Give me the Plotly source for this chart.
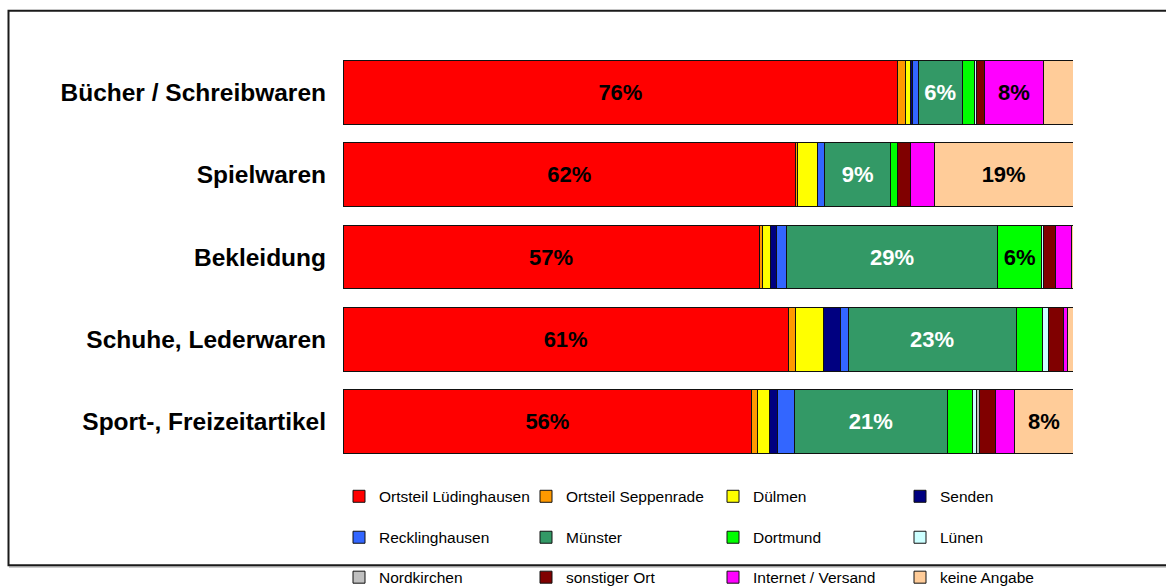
import plotly.graph_objects as go

# Product groups (top to bottom)
categories = [
    "Bücher / Schreibwaren",
    "Spielwaren",
    "Bekleidung",
    "Schuhe, Lederwaren",
    "Sport-, Freizeitartikel",
]

# Shares of purchase location per product group, in percent
luedinghausen = [76, 62, 57, 61, 56]
seppenrade = [1.0, 0.2, 0.4, 1.0, 0.8]
duelmen = [0.7, 2.8, 1.2, 3.8, 1.6]
senden = [0.3, 0, 0.8, 2.4, 1.1]
recklinghausen = [0.8, 1.0, 1.3, 1.0, 2.3]
muenster = [6, 9, 29, 23, 21]
dortmund = [1.7, 1.0, 6, 3.6, 3.4]
luenen = [0.3, 0, 0.2, 0.8, 0.6]
nordkirchen = [0, 0, 0, 0, 0.4]
sonstiger_ort = [1.1, 1.7, 1.7, 2.1, 2.2]
internet_versand = [8, 3.3, 2.2, 0.5, 2.6]
keine_angabe = [4.1, 19, 0.3, 0.8, 8]

series_names = [
    "Ortsteil Lüdinghausen", "Ortsteil Seppenrade", "Dülmen", "Senden",
    "Recklinghausen", "Münster", "Dortmund", "Lünen",
    "Nordkirchen", "sonstiger Ort", "Internet / Versand", "keine Angabe",
]
series_values = [
    luedinghausen, seppenrade, duelmen, senden,
    recklinghausen, muenster, dortmund, luenen,
    nordkirchen, sonstiger_ort, internet_versand, keine_angabe,
]
series_colors = [
    "#FF0000", "#FF9900", "#FFFF00", "#000080",
    "#3366FF", "#339966", "#00FF00", "#CCFFFF",
    "#C0C0C0", "#800000", "#FF00FF", "#FFCC99",
]
label_colors = ["black"] * 12
label_colors[5] = "white"

LABEL_MIN = 5  # segments below this share carry no label

W, H = 1166, 587
PLOT_L, PLOT_R = 343, 1073
PLOT_T, PLOT_B = 50.75, 463.25
FONT = "Liberation Sans, Arial, sans-serif"


def px_x(x):
    return (x - PLOT_L) / (PLOT_R - PLOT_L)


def px_y(y):
    return (PLOT_B - y) / (PLOT_B - PLOT_T)


legend_ids = ["legend", "legend2", "legend3"]

fig = go.Figure()
for i, (name, vals, col) in enumerate(zip(series_names, series_values, series_colors)):
    fig.add_trace(go.Bar(
        name=name,
        y=categories,
        x=[v if v else None for v in vals],
        orientation="h",
        marker=dict(color=col, line=dict(color="#111111", width=1)),
        text=[f"{v:.0f}%" if v >= LABEL_MIN else "" for v in vals],
        textposition="inside",
        insidetextanchor="middle",
        textangle=0,
        textfont=dict(family=FONT, size=22, color=label_colors[i], weight="bold"),
        legend=legend_ids[i // 4],
        hoverinfo="skip",
    ))

# one horizontal legend per row, four entries each
legend_rows_y = [497, 538, 578]
legend_common = dict(
    orientation="h",
    xanchor="left",
    yanchor="middle",
    x=px_x(339),
    entrywidth=142,
    entrywidthmode="pixels",
    traceorder="normal",
    font=dict(family=FONT, size=15.5, color="black"),
    bgcolor="rgba(0,0,0,0)",
    borderwidth=0,
    itemclick=False,
    itemdoubleclick=False,
)
legend_layout = {}
for lid, ry in zip(legend_ids, legend_rows_y):
    legend_layout[lid] = dict(legend_common, y=px_y(ry))

fig.update_layout(
    width=W,
    height=H,
    barmode="stack",
    bargap=0.224,
    plot_bgcolor="white",
    paper_bgcolor="white",
    margin=dict(l=PLOT_L, r=W - PLOT_R, t=PLOT_T, b=H - PLOT_B, pad=0, autoexpand=False),
    xaxis=dict(range=[0, 100], visible=False, fixedrange=True),
    yaxis=dict(
        autorange="reversed",
        showgrid=False,
        zeroline=False,
        showline=False,
        ticks="",
        ticklabelstandoff=16,
        tickfont=dict(family=FONT, size=24.5, color="black", weight="bold"),
        fixedrange=True,
    ),
    showlegend=True,
    **legend_layout,
    shapes=[
        # soft shadow under the bottom edge of the frame
        dict(
            type="line", xref="paper", yref="paper",
            x0=px_x(9), x1=px_x(1200), y0=px_y(567.5), y1=px_y(567.5),
            line=dict(color="#bdbdbd", width=1.5),
            layer="below",
        ),
        # chart frame
        dict(
            type="rect", xref="paper", yref="paper",
            x0=px_x(8.5), x1=px_x(1200), y0=px_y(565.5), y1=px_y(10.5),
            line=dict(color="#1a1a1a", width=2),
            fillcolor="rgba(0,0,0,0)",
            layer="below",
        ),
    ],
)

fig.write_html("out.html")
